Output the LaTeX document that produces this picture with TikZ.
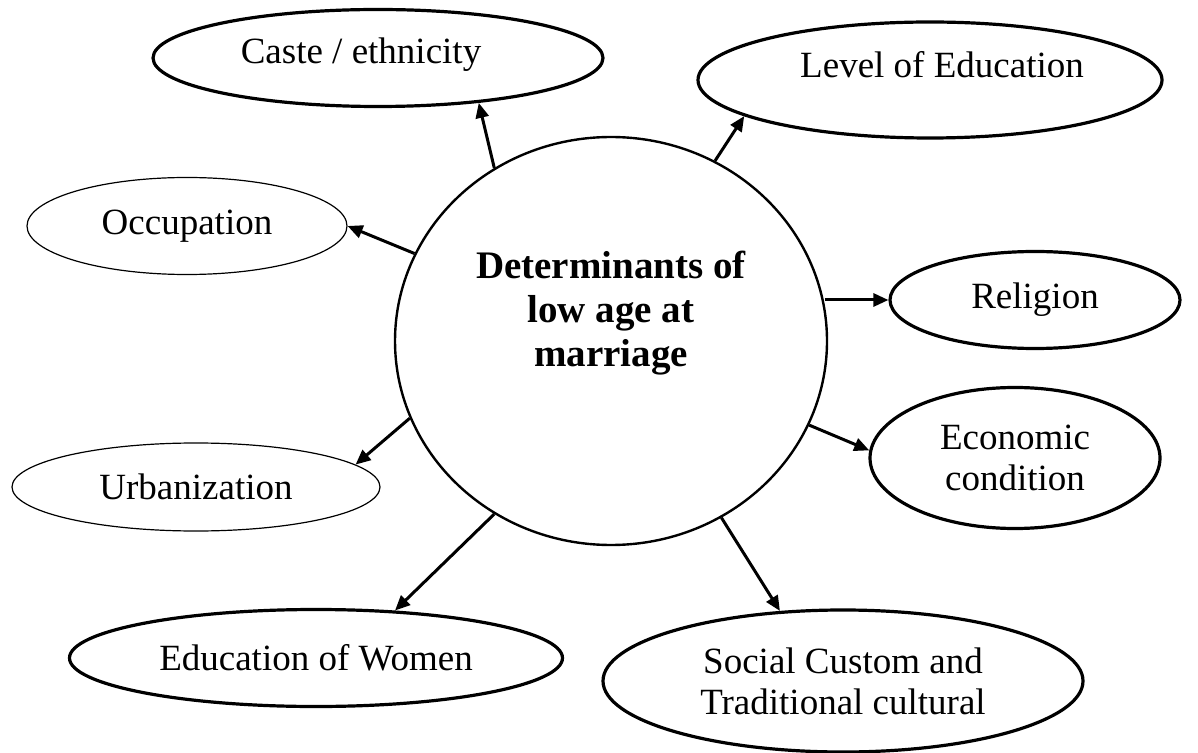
\documentclass[tikz,border=0pt]{standalone}
\usepackage{fontspec}
\setmainfont{Liberation Serif}
\usepackage{tikz}
\usetikzlibrary{arrows.meta,shapes.geometric}
\definecolor{cInk}{HTML}{000000}
\tikzset{
  hubblk/.style={draw=cInk, ellipse, line width=1.2pt, fill=white,
                 minimum width=216pt, minimum height=204pt, inner sep=0pt},
  hubtxt/.style={font=\fontsize{19.5}{22}\selectfont\bfseries, align=center, text=cInk},
  factxt/.style={font=\fontsize{18.5}{20.5}\selectfont, align=center, text=cInk, inner sep=0pt},
  fac/.style={draw=cInk, ellipse, line width=1.6pt, fill=white, inner sep=0pt, factxt},
  facthin/.style={fac, line width=0.6pt},
  arr/.style={-{Triangle[length=7.5pt,width=6.5pt]}, line width=1.5pt, cInk}
}

\begin{document}
\begin{tikzpicture}[x=0.5pt, y=-0.5pt]
\useasboundingbox (0,0) rectangle (1198,753);
% centre
\node[hubblk] (hub) at (611,341) {};
\node[hubtxt] (hubtxt) at (611,313) {Determinants of\\low age at\\marriage};
% factors
\node[fac, minimum width=225pt, minimum height=48.5pt,
      label={[factxt, xshift=-8.5pt, yshift=1.5pt]center:Caste / ethnicity}] (caste) at (378,58) {};
\node[fac, minimum width=232pt, minimum height=58pt,
      label={[factxt, xshift=6pt, yshift=7.5pt]center:Level of Education}] (edulevel) at (930,80) {};
\node[facthin, minimum width=160pt, minimum height=48.5pt] (occup) at (187,226) {Occupation};
\node[fac, minimum width=145pt, minimum height=48.5pt] (relig) at (1035,300) {Religion};
\node[fac, minimum width=145pt, minimum height=70.5pt] (econ) at (1015,458) {Economic\\condition};
\node[facthin, minimum width=184pt, minimum height=44pt] (urban) at (196,487) {Urbanization};
\node[fac, minimum width=246.5pt, minimum height=48.5pt] (eduwomen) at (316,658) {Education of Women};
\node[fac, minimum width=240pt, minimum height=71pt] (custom) at (843,681) {Social Custom and\\Traditional cultural};
% arrows
\draw[arr] (hub.124) -- (caste.-24);
\draw[arr] (hub.60) -- (edulevel.191);
\draw[arr] (hub.156) -- (occup.0);
\draw[arr] (hub.10 |- relig.west) -- (relig.west);
\draw[arr] (hub.-23) -- (econ.177);
\draw[arr] (hub.-159) -- (urban.8);
\draw[arr] (hub.-124) -- (eduwomen.31);
\draw[arr] (hub.-58) -- (custom.132);
\end{tikzpicture}
\end{document}
